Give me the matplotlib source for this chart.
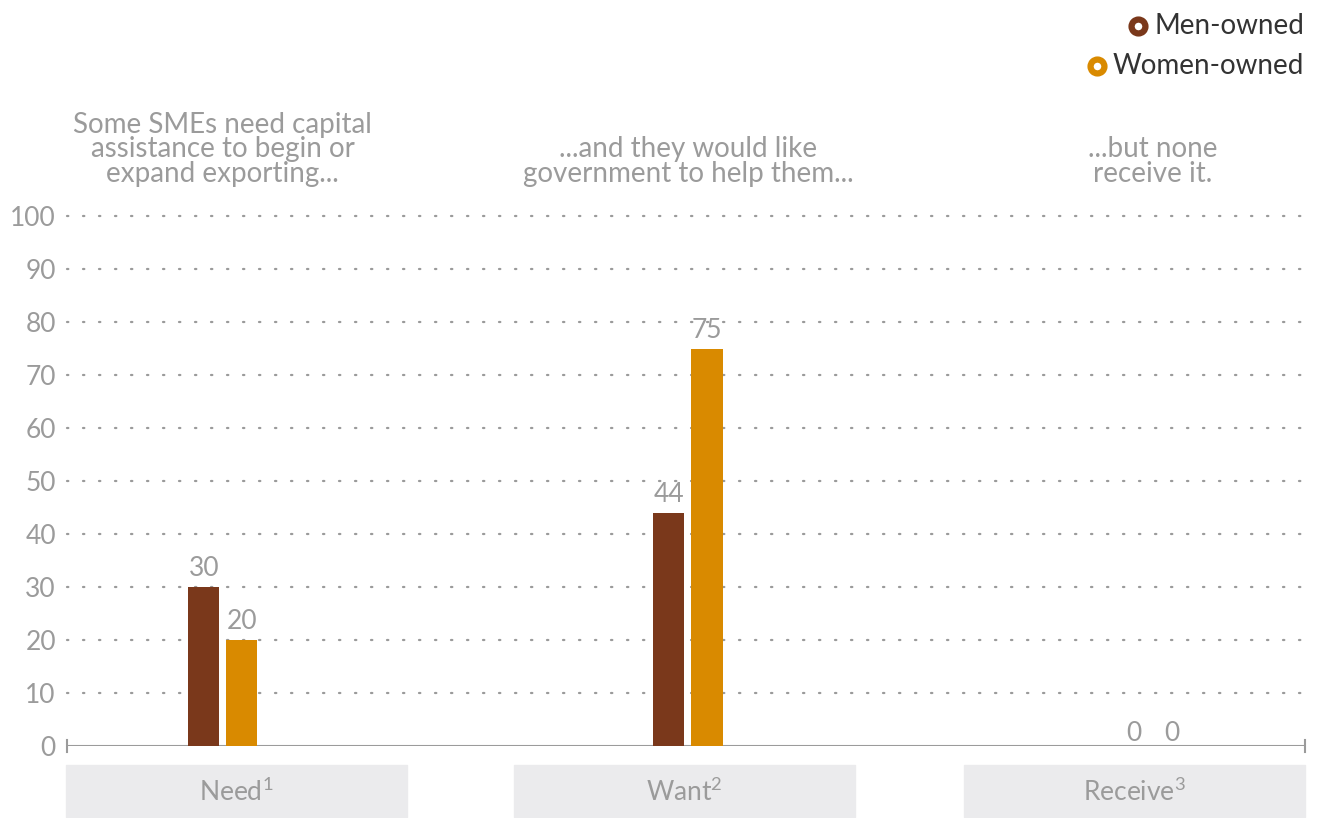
import matplotlib.pyplot as plt
from matplotlib.patches import Rectangle
import numpy as np

plt.rcParams['font.family'] = ['Lato', 'DejaVu Sans']
plt.rcParams['mathtext.fontset'] = 'custom'
plt.rcParams['mathtext.rm'] = 'Lato'

categories = ['Need$^{\\mathrm{1}}$', 'Want$^{\\mathrm{2}}$', 'Receive$^{\\mathrm{3}}$']
men = [30, 44, 0]
women = [20, 75, 0]
series = ['Men-owned', 'Women-owned']
notes = ['Some SMEs need capital\nassistance to begin or\nexpand exporting...',
         '...and they would like\ngovernment to help them...',
         '...but none\nreceive it.']
yticks = [0, 10, 20, 30, 40, 50, 60, 70, 80, 90, 100]

men_c = '#7a381b'
women_c = '#d98a00'
grey = '#9b9b9b'

fig = plt.figure(figsize=(13.17, 8.18), dpi=100)
ax = fig.add_axes([67/1317, 72/818, 1238/1317, 530/818])

x = np.arange(len(categories))
w = 0.067
off = 0.041
b1 = ax.bar(x - off, men, w, color=men_c, zorder=3)
b2 = ax.bar(x + off, women, w, color=women_c, zorder=3)

for bars, vals in ((b1, men), (b2, women)):
    for r, v in zip(bars, vals):
        ax.annotate(str(v), (r.get_x() + r.get_width() / 2, v),
                    xytext=(0, 4 if v > 0 else 0), textcoords='offset points',
                    ha='center', va='bottom', fontsize=19, color=grey)

ax.set_xlim(-0.335, 2.327)
ax.set_ylim(0, 100)
ax.set_yticks(yticks)
ax.set_yticklabels([str(t) for t in yticks], fontsize=19, color=grey)
ax.tick_params(axis='y', length=0, pad=8)
ax.set_xticks([])
for s in ax.spines.values():
    s.set_visible(False)

# dotted grid
for t in yticks[1:]:
    ax.axhline(t, color='#9a9a9a', lw=1.6, linestyle=(0, (0.6, 6.6)),
               dash_capstyle='round', zorder=1, clip_on=False)
# baseline with end caps
ax.axhline(0, color=grey, lw=1.5, zorder=2)
for xe in ax.get_xlim():
    ax.plot([xe, xe], [-1.2, 1.2], color=grey, lw=1.5, clip_on=False)

# notes above each group
for xi, note in zip(x, notes):
    ax.text(xi, 105.5, note, ha='center', va='bottom', fontsize=20,
            color=grey, linespacing=0.93)

# category boxes
box_left = [66, 514, 964]
for bl, cat in zip(box_left, categories):
    fig.patches.append(Rectangle((bl/1317, 1/818), 341/1317, 52/818,
                                 transform=fig.transFigure,
                                 color='#ebebed', zorder=0))
    fig.text((bl + 170)/1317, 26/818, cat, ha='center', va='center',
             fontsize=19, color=grey)

# legend: right-aligned labels with ring markers just left of each label
renderer = fig.canvas.get_renderer()
for i, (lab, c) in enumerate(zip(series, [men_c, women_c])):
    yf = 1 - (26 + 40 * i) / 818
    t = fig.text(1304/1317, yf, lab, ha='right', va='center',
                 fontsize=20, color='#333333')
    bb = t.get_window_extent(renderer)
    fig.add_artist(plt.Line2D([(bb.x0 - 16)/1317], [yf], marker='o', ls='',
                              markersize=10, markerfacecolor='white',
                              markeredgecolor=c, markeredgewidth=4.5,
                              transform=fig.transFigure))

fig.savefig('out.png', dpi=100)
